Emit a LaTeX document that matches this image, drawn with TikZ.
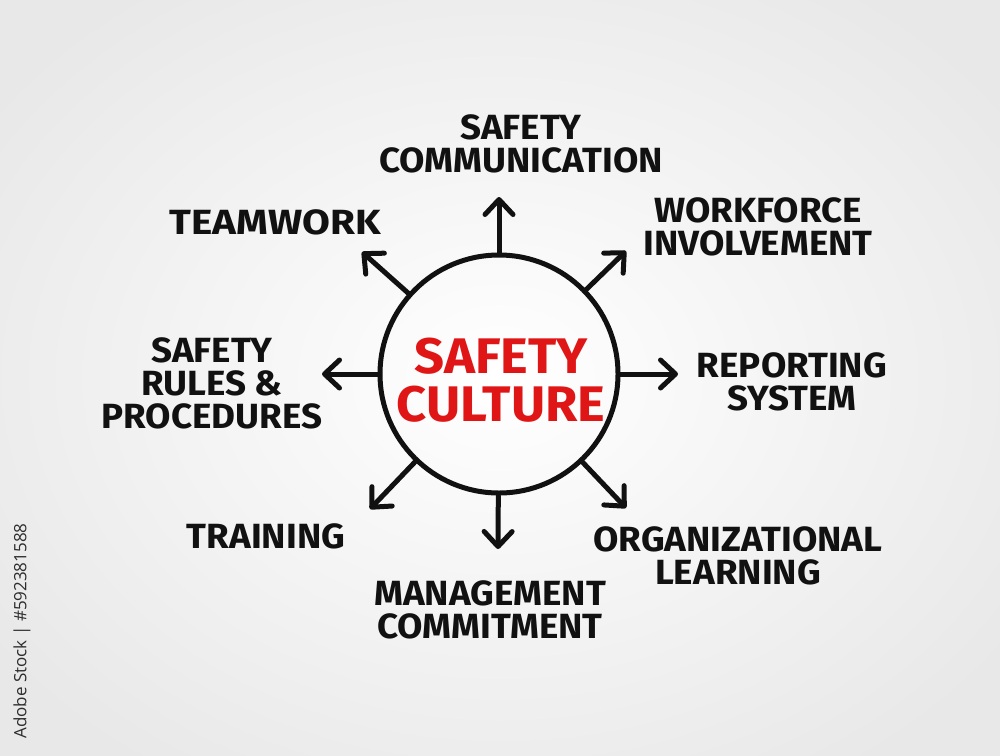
\documentclass[tikz,border=0pt]{standalone}
\usepackage{fontspec}
\setmainfont{Fira Sans}[FakeStretch=1.05]
\newfontfamily\wmfont{Open Sans}
\usetikzlibrary{arrows.meta}
\definecolor{ink}{RGB}{17,17,17}
\definecolor{redink}{RGB}{224,22,22}
\definecolor{bgout}{RGB}{232,232,232}
\definecolor{wmgray}{RGB}{45,45,45}
\tikzset{
  lbl/.style={text=ink, align=center, inner sep=0pt, font=\bfseries\fontsize{35}{33}\selectfont},
  arr/.style={draw=ink, line width=5pt, line cap=round, line join=round,
    -{Straight Barb[length=15pt,width=28pt,line width=5pt,round]}},
}
\begin{document}
\begin{tikzpicture}[x=1pt,y=-1pt]
\useasboundingbox (0,0) rectangle (1000,755);
\shade[inner color=white, outer color=bgout] (-120,-100) rectangle (1120,855);
% centre
\node[draw=ink, line width=5pt, circle, minimum size=238pt, inner sep=0pt] (c) at (499,374) {};
\node[text=redink, align=center, inner sep=0pt, font=\bfseries\fontsize{50}{48}\selectfont] (ct) at (501,380) {SAFETY\\CULTURE};
% tips
\coordinate (tN) at (499,197);
\coordinate (tNE) at (626,251);
\coordinate (tE) at (678,374);
\coordinate (tSE) at (626,508);
\coordinate (tS) at (498,549);
\coordinate (tSW) at (370,509);
\coordinate (tW) at (322,374);
\coordinate (tNW) at (362,252);
\foreach \t in {tN,tNE,tE,tSE,tS,tSW,tW,tNW} \draw[arr] (c) -- (\t);
% labels
\node[lbl] (comm) at (521,144) {SAFETY\\COMMUNICATION};
\node[lbl] (team) at (275,222) {\scalebox{1.1}[1]{TEAMWORK}};
\node[lbl] (work) at (758,227) {WORKFORCE\\INVOLVEMENT};
\node[lbl] (rules) at (212,383) {SAFETY\\RULES \&\\PROCEDURES};
\node[lbl] (rep) at (792,382) {REPORTING\\SYSTEM};
\node[lbl] (train) at (266,536) {TRAINING};
\node[lbl] (mgmt) at (490,610) {MANAGEMENT\\COMMITMENT};
\node[lbl] (org) at (738,556) {ORGANIZATIONAL\\LEARNING};
% watermark
\node[text=wmgray, rotate=90, inner sep=0pt, font=\wmfont\fontsize{17}{17}\selectfont] (wm) at (22,631) {Adobe Stock | \#592381588};
\end{tikzpicture}
\end{document}
